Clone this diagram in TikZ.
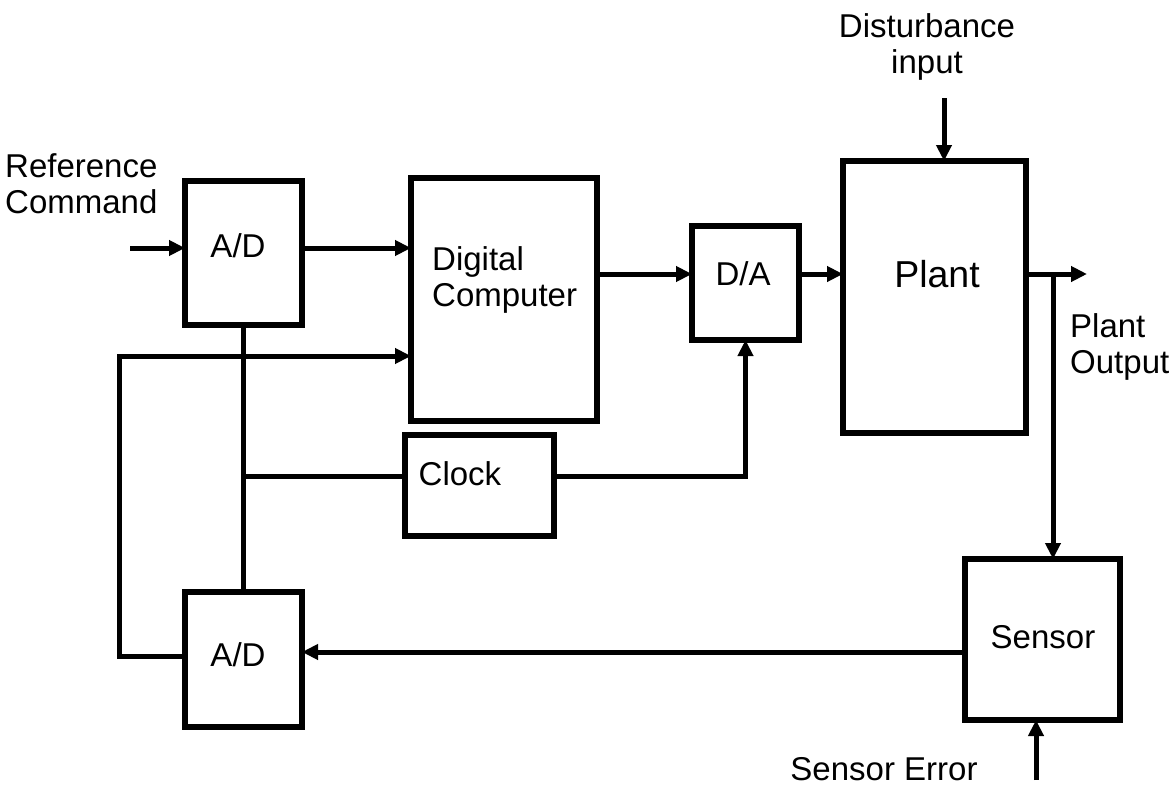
\documentclass[tikz,border=0pt]{standalone}
\usepackage{fontspec}
\setmainfont{Liberation Sans}
\usetikzlibrary{arrows.meta}
\begin{document}
\begin{tikzpicture}[x=1pt,y=-1pt,
  blk/.style={draw, line width=5.5pt, inner sep=0pt, outer sep=0pt},
  wire/.style={line width=5pt},
  arr/.style={wire, -{Triangle[length=16pt,width=15pt]}},
  lbl/.style={font=\fontsize{33}{36.5}\selectfont, inner sep=0pt},
  big/.style={font=\fontsize{37.5}{42}\selectfont, inner sep=0pt}]
\useasboundingbox (0,0) rectangle (1175,787);

% blocks
\node[blk, minimum width=117pt, minimum height=144pt] (ad1) at (243.5,253) {};
\node[blk, minimum width=186pt, minimum height=243pt] (dc) at (504,299.5) {};
\node[blk, minimum width=107pt, minimum height=114pt] (da) at (745.5,283) {};
\node[blk, minimum width=183pt, minimum height=272pt] (plant) at (934.5,297) {};
\node[blk, minimum width=149pt, minimum height=101pt] (clock) at (479.5,485.5) {};
\node[blk, minimum width=155pt, minimum height=161pt] (sensor) at (1042.5,639.5) {};
\node[blk, minimum width=117pt, minimum height=135pt] (ad2) at (243.5,659.5) {};

% block texts
\node[lbl, anchor=base] (ad1t) at (238,257) {A/D};
\node[lbl, anchor=north west, align=left] (dct) at (432,246) {Digital\\Computer};
\node[lbl, anchor=base] (dat) at (743,285) {D/A};
\node[big, anchor=base] (plantt) at (937,287) {Plant};
\node[lbl, anchor=base] (clockt) at (460,485) {Clock};
\node[lbl, anchor=base] (sensort) at (1043,648) {Sensor};
\node[lbl, anchor=base] (ad2t) at (238,666) {A/D};

% outside labels
\node[lbl, anchor=north west, align=left] (refl) at (5,153) {Reference\\Command};
\node[lbl, anchor=north, align=center] (distl) at (927,13) {Disturbance\\input};
\node[lbl, anchor=north west, align=left] (outl) at (1070,313) {Plant\\Output};
\node[lbl, anchor=base] (serrl) at (884,780) {Sensor Error};

% connectors
\coordinate (refin) at (130,248);
\draw[arr] (refin) -- (refin -| ad1.west);
\draw[arr] (refin -| ad1.east) -- (refin -| dc.west);

\coordinate (fbc) at (119,356);
\coordinate (fbb) at (119,656);
\draw[arr] (fbb -| ad2.west) -- (fbb) -- (fbc) -- (fbc -| dc.west);

\draw[wire] (ad1.south) -- (ad2.north);
\coordinate (clk) at (243.5,476);
\draw[wire] (clk) -- (clk -| clock.west);
\draw[arr] (clk -| clock.east) -| (da.south);

\coordinate (sig) at (0,274);
\draw[arr] (sig -| dc.east) -- (sig -| da.west);
\draw[arr] (sig -| da.east) -- (sig -| plant.west);
\coordinate (out) at (1087,274);
\draw[arr] (out -| plant.east) -- (out);
\coordinate (br) at (1053,274);
\draw[arr] (br) -- (br |- sensor.north);

\coordinate (dist) at (944,98);
\draw[arr] (dist) -- (dist |- plant.north);

\coordinate (fbs) at (0,652);
\draw[arr] (fbs -| sensor.west) -- (fbs -| ad2.east);

\coordinate (serr) at (1036,780);
\draw[arr] (serr) -- (serr |- sensor.south);
\end{tikzpicture}
\end{document}
